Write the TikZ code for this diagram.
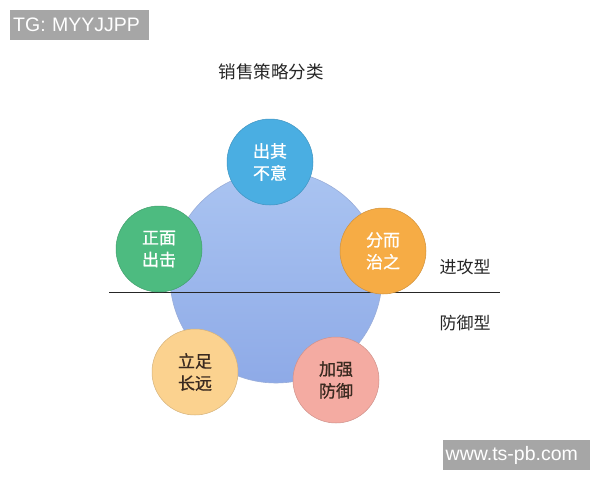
\documentclass[tikz,border=0pt]{standalone}
\usepackage{fontspec}
\setmainfont{Liberation Sans}
\newfontfamily\cjk{Noto Sans CJK SC}
\newfontfamily\cjkb[FakeBold=0.8]{Noto Sans CJK SC}
\definecolor{bigtop}{HTML}{AAC4F1}
\definecolor{bigbot}{HTML}{8EAAE7}
\definecolor{cblue}{HTML}{4AAEE2}
\definecolor{cgreen}{HTML}{4DBB80}
\definecolor{corange}{HTML}{F6AC45}
\definecolor{cpeach}{HTML}{FBD28F}
\definecolor{cpink}{HTML}{F4ABA2}
\definecolor{wmgray}{HTML}{A6A6A6}
\definecolor{darktext}{HTML}{3A2A20}
\begin{document}
\begin{tikzpicture}[x=1pt,y=-1pt,
  smallc/.style={circle,minimum size=86pt,inner sep=0pt,align=center,
    font=\cjkb\fontsize{17}{22}\selectfont},
  lbl/.style={font=\cjk\fontsize{17}{20}\selectfont,text=black!85,inner sep=0pt},
  wm/.style={fill=wmgray,text=white,font=\fontsize{19.5}{22}\selectfont,inner sep=0pt}]
\useasboundingbox (0,0) rectangle (600,480);
\fill[white] (0,0) rectangle (600,480);
% watermark boxes
\node[wm,minimum width=139pt,minimum height=30pt,anchor=north west,text width=133pt,align=left] (tg) at (10,10) {TG: MYYJJPP};
\node[wm,minimum width=147pt,minimum height=30pt,anchor=north west,text width=142pt,align=left] (ws) at (443,440) {www.ts-pb.com};
% title
\node[lbl,font=\cjk\fontsize{17.5}{20}\selectfont] (title) at (271,72) {销售策略分类};
% big circle
\node[circle,minimum size=212pt,inner sep=0pt,draw=bigbot!90!black!80,line width=0.6pt,top color=bigtop,bottom color=bigbot] (big) at (276,277) {};
% dividing line
\coordinate (l1) at (109,292);
\coordinate (l2) at (500,292);
\draw[line width=1pt,black!85] (l1) -- (l2);
% small circles
\node[smallc,fill=cblue,draw=cblue!85!black,line width=0.5pt,text=white] (c1) at (270,162) {出其\\不意};
\node[smallc,fill=cgreen,draw=cgreen!85!black,line width=0.5pt,text=white] (c2) at (159,249) {正面\\出击};
\node[smallc,fill=corange,draw=corange!85!black,line width=0.5pt,text=white] (c3) at (383,251) {分而\\治之};
\node[smallc,fill=cpeach,draw=cpeach!85!black,line width=0.5pt,text=darktext] (c4) at (195,372) {立足\\长远};
\node[smallc,fill=cpink,draw=cpink!85!black,line width=0.5pt,text=darktext] (c5) at (336,380) {加强\\防御};
% labels
\node[lbl] (atk) at (465,267) {进攻型};
\node[lbl] (def) at (465,323) {防御型};
\end{tikzpicture}
\end{document}
